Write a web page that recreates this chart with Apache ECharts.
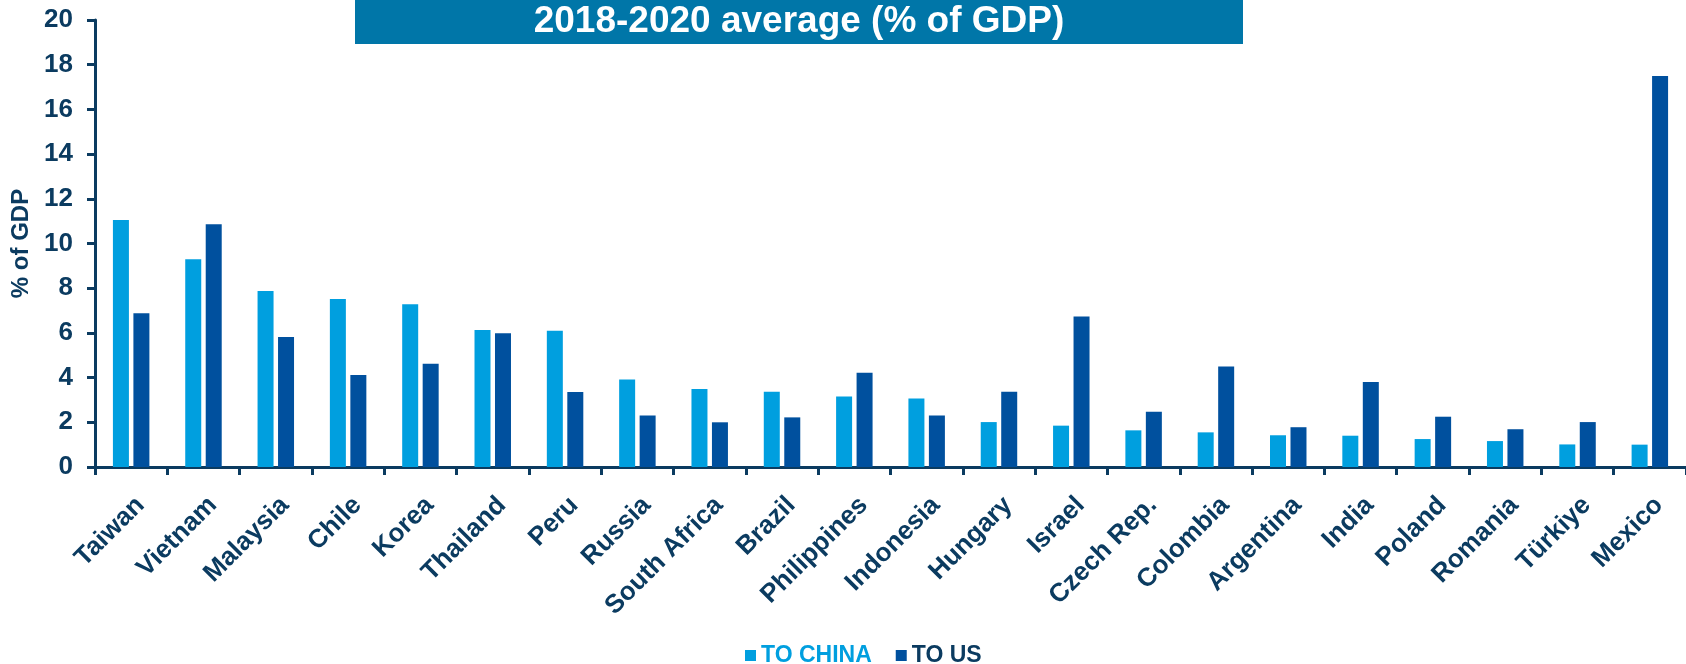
<!DOCTYPE html>
<html>
<head>
<meta charset="utf-8">
<script src="https://cdn.jsdelivr.net/npm/echarts@6/dist/echarts.min.js"></script>
<style>
html,body{margin:0;padding:0;background:#fff;overflow:hidden;}
#chart{width:1686px;height:664px;}
</style>
</head>
<body>
<div id="chart"></div>
<script>
const categories = ['Taiwan','Vietnam','Malaysia','Chile','Korea','Thailand','Peru','Russia','South Africa','Brazil','Philippines','Indonesia','Hungary','Israel','Czech Rep.','Colombia','Argentina','India','Poland','Romania','Türkiye','Mexico'];
const toChina = [11.05, 9.29, 7.87, 7.52, 7.28, 6.13, 6.10, 3.91, 3.49, 3.37, 3.15, 3.07, 2.01, 1.85, 1.64, 1.55, 1.42, 1.40, 1.25, 1.16, 1.01, 1.00];
const toUS = [6.88, 10.86, 5.82, 4.12, 4.62, 5.98, 3.36, 2.30, 2.00, 2.22, 4.22, 2.30, 3.37, 6.73, 2.47, 4.50, 1.78, 3.80, 2.25, 1.69, 2.01, 17.49];
const seriesNames = ['TO CHINA', 'TO US'];
const titleText = '2018-2020 average (% of GDP)';
const yAxisName = '% of GDP';

const NAVY = '#0B3B60';
const LIGHT = '#009FDF';
const DARK = '#00509E';
const FONT = '"Liberation Sans", Arial, sans-serif';

const chart = echarts.init(document.getElementById('chart'));
chart.setOption({
  animation: false,
  backgroundColor: '#ffffff',
  textStyle: { fontFamily: FONT },
  graphic: [
    { type: 'rect', shape: { x: 355, y: 0, width: 888, height: 44 }, style: { fill: '#0076A8' }, z: 10 },
    { type: 'text', x: 799, y: 22, z: 11,
      style: { text: titleText, fill: '#ffffff', font: 'bold 37px ' + FONT, textAlign: 'center', textVerticalAlign: 'middle' } }
  ],
  legend: {
    left: 740, top: 639,
    itemWidth: 11, itemHeight: 11, itemGap: 24,
    icon: 'rect',
    textStyle: { fontSize: 23, fontWeight: 'bold', fontFamily: FONT },
    data: [
      { name: seriesNames[0], textStyle: { color: LIGHT } },
      { name: seriesNames[1], textStyle: { color: NAVY } }
    ]
  },
  grid: { left: 95, top: 20, width: 1598, height: 447, containLabel: false },
  xAxis: {
    type: 'category',
    data: categories,
    axisLine: { lineStyle: { color: NAVY, width: 3 } },
    axisTick: { show: true, interval: 0, length: 8, lineStyle: { color: NAVY, width: 3 } },
    axisLabel: { interval: 0, rotate: 45, margin: 25, verticalAlign: 'top', color: NAVY, fontSize: 26, fontWeight: 'bold', fontFamily: FONT }
  },
  yAxis: {
    type: 'value',
    min: 0, max: 20, interval: 2,
    name: yAxisName,
    nameLocation: 'middle',
    nameGap: 57,
    nameRotate: 90,
    nameTextStyle: { color: NAVY, fontSize: 24, fontWeight: 'bold', fontFamily: FONT },
    axisLine: { show: true, lineStyle: { color: NAVY, width: 3 } },
    axisTick: { show: true, length: 8, lineStyle: { color: NAVY, width: 3 } },
    axisLabel: { margin: 22, color: NAVY, fontSize: 26, fontWeight: 'bold', fontFamily: FONT },
    splitLine: { show: false }
  },
  series: [
    { name: seriesNames[0], type: 'bar', data: toChina, barWidth: 16, barGap: '28%', itemStyle: { color: LIGHT } },
    { name: seriesNames[1], type: 'bar', data: toUS, barWidth: 16, barGap: '28%', itemStyle: { color: DARK } }
  ]
});
</script>
</body>
</html>
